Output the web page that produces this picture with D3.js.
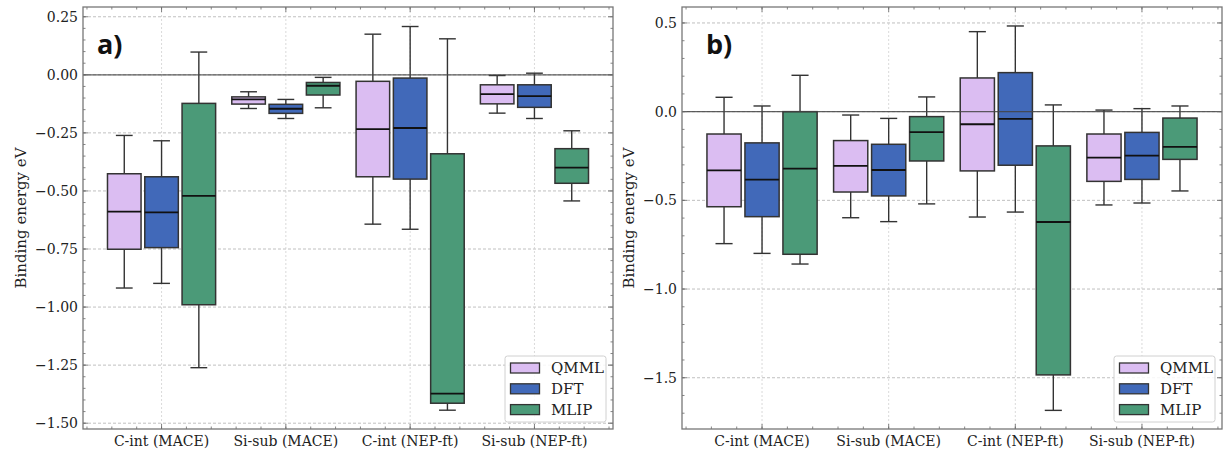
<!DOCTYPE html>
<html><head><meta charset="utf-8">
<script src="https://cdn.jsdelivr.net/npm/d3@7"></script>
<style>body{margin:0;background:#fff} svg{display:block}</style>
</head><body>
<svg id="chart" width="1223" height="450"></svg>
<script>
// Categories and series
const categories = ["C-int (MACE)", "Si-sub (MACE)", "C-int (NEP-ft)", "Si-sub (NEP-ft)"];
const seriesNames = ["QMML", "DFT", "MLIP"];
const seriesColors = ["#DBBDF2", "#4169B9", "#4B9A78"];

// Box summaries per category: [lower whisker, Q1, median, Q3, upper whisker]
const qmmlA = [[-0.918, -0.751, -0.589, -0.426, -0.261], [-0.145, -0.126, -0.106, -0.095, -0.073],
               [-0.643, -0.439, -0.234, -0.028, 0.175], [-0.165, -0.125, -0.083, -0.043, -0.003]];
const dftA  = [[-0.898, -0.744, -0.592, -0.439, -0.284], [-0.188, -0.166, -0.146, -0.127, -0.106],
               [-0.665, -0.449, -0.229, -0.014, 0.208], [-0.188, -0.140, -0.092, -0.043, 0.007]];
const mlipA = [[-1.261, -0.990, -0.521, -0.123, 0.098], [-0.142, -0.087, -0.047, -0.033, -0.011],
               [-1.444, -1.414, -1.373, -0.340, 0.155], [-0.543, -0.467, -0.400, -0.318, -0.241]];

const qmmlB = [[-0.744, -0.536, -0.331, -0.126, 0.081], [-0.598, -0.453, -0.306, -0.163, -0.019],
               [-0.594, -0.334, -0.071, 0.190, 0.451], [-0.526, -0.393, -0.259, -0.126, 0.009]];
const dftB  = [[-0.799, -0.592, -0.383, -0.176, 0.032], [-0.620, -0.475, -0.329, -0.184, -0.038],
               [-0.566, -0.302, -0.041, 0.220, 0.483], [-0.515, -0.382, -0.248, -0.117, 0.017]];
const mlipB = [[-0.859, -0.804, -0.321, 0.000, 0.205], [-0.520, -0.278, -0.115, -0.028, 0.083],
               [-1.684, -1.484, -0.622, -0.193, 0.038], [-0.447, -0.269, -0.199, -0.036, 0.032]];

// Axis ticks
const yTicksA = [0.25, 0.00, -0.25, -0.50, -0.75, -1.00, -1.25, -1.50];
const yTicksB = [0.5, 0.0, -0.5, -1.0, -1.5];

const yLabel = "Binding energy eV";

const svg = d3.select("#chart");
const serif = "'DejaVu Serif', serif";

const panels = [
  { box: { l: 83, t: 7, r: 613, b: 429 }, yDomain: [-1.525, 0.292], yTicks: yTicksA, minorStep: 0.05,
    fmt: d3.format(".2f"), data: [qmmlA, dftA, mlipA], tag: "a)", tagX: 97, labelX: 21 },
  { box: { l: 682, t: 7, r: 1222, b: 429 }, yDomain: [-1.789, 0.590], yTicks: yTicksB, minorStep: 0.1,
    fmt: d3.format(".1f"), data: [qmmlB, dftB, mlipB], tag: "b)", tagX: 706, labelX: 629 }
];

const xDomain = [-0.632, 3.632];
const offsets = [-0.30, 0, 0.30];
const boxW = 0.27;

panels.forEach(p => {
  const g = svg.append("g");
  const { l, t, r, b } = p.box;
  const x = d3.scaleLinear().domain(xDomain).range([l, r]);
  const y = d3.scaleLinear().domain(p.yDomain).range([b, t]);

  // grid
  g.append("g").selectAll("line").data(p.yTicks).join("line")
    .attr("x1", l).attr("x2", r).attr("y1", d => y(d)).attr("y2", d => y(d))
    .attr("stroke", "#b0b0b0").attr("stroke-width", 0.8).attr("stroke-dasharray", "3,2");
  g.append("g").selectAll("line").data(categories).join("line")
    .attr("x1", (d, i) => x(i)).attr("x2", (d, i) => x(i)).attr("y1", t).attr("y2", b)
    .attr("stroke", "#d0d0d0").attr("stroke-width", 0.8).attr("stroke-dasharray", "2,2");

  // boxes
  const unit = x(1) - x(0);
  const bw = boxW * unit;
  p.data.forEach((series, s) => {
    const sg = g.append("g");
    series.forEach((v, i) => {
      const cx = x(i + offsets[s]);
      const [lo, q1, med, q3, hi] = v;
      const st = "#333";
      sg.append("line").attr("x1", cx).attr("x2", cx).attr("y1", y(q3)).attr("y2", y(hi)).attr("stroke", st).attr("stroke-width", 1.4);
      sg.append("line").attr("x1", cx).attr("x2", cx).attr("y1", y(q1)).attr("y2", y(lo)).attr("stroke", st).attr("stroke-width", 1.4);
      sg.append("line").attr("x1", cx - bw / 4).attr("x2", cx + bw / 4).attr("y1", y(hi)).attr("y2", y(hi)).attr("stroke", st).attr("stroke-width", 1.4);
      sg.append("line").attr("x1", cx - bw / 4).attr("x2", cx + bw / 4).attr("y1", y(lo)).attr("y2", y(lo)).attr("stroke", st).attr("stroke-width", 1.4);
      sg.append("rect").attr("x", cx - bw / 2).attr("width", bw)
        .attr("y", y(q3)).attr("height", y(q1) - y(q3))
        .attr("fill", seriesColors[s]).attr("stroke", st).attr("stroke-width", 1.5);
      sg.append("line").attr("x1", cx - bw / 2).attr("x2", cx + bw / 2).attr("y1", y(med)).attr("y2", y(med))
        .attr("stroke", "#111").attr("stroke-width", 1.8);
    });
  });

  // zero reference line
  g.append("line").attr("x1", l).attr("x2", r).attr("y1", y(0)).attr("y2", y(0))
    .attr("stroke", "#444").attr("stroke-width", 1.3).attr("stroke-opacity", 0.85);

  // ticks pointing inward on all sides
  const tk = g.append("g").attr("stroke", "#666").attr("stroke-width", 0.8);
  const [y0, y1] = p.yDomain;
  const minorY = d3.range(Math.ceil(y0 / p.minorStep) * p.minorStep, y1, p.minorStep)
    .map(v => +v.toFixed(3));
  const minorX = d3.range(-0.6, 3.61, 0.2).map(v => +v.toFixed(2));
  minorY.forEach(v => {
    tk.append("line").attr("x1", l).attr("x2", l + 2.5).attr("y1", y(v)).attr("y2", y(v));
    tk.append("line").attr("x1", r).attr("x2", r - 2.5).attr("y1", y(v)).attr("y2", y(v));
  });
  p.yTicks.forEach(v => {
    tk.append("line").attr("x1", l).attr("x2", l + 5).attr("y1", y(v)).attr("y2", y(v));
    tk.append("line").attr("x1", r).attr("x2", r - 5).attr("y1", y(v)).attr("y2", y(v));
  });
  minorX.forEach(v => {
    tk.append("line").attr("y1", b).attr("y2", b - 2.5).attr("x1", x(v)).attr("x2", x(v));
    tk.append("line").attr("y1", t).attr("y2", t + 2.5).attr("x1", x(v)).attr("x2", x(v));
  });
  categories.forEach((c, i) => {
    tk.append("line").attr("y1", b).attr("y2", b - 5).attr("x1", x(i)).attr("x2", x(i));
    tk.append("line").attr("y1", t).attr("y2", t + 5).attr("x1", x(i)).attr("x2", x(i));
  });

  // frame
  g.append("rect").attr("x", l).attr("y", t).attr("width", r - l).attr("height", b - t)
    .attr("fill", "none").attr("stroke", "#777").attr("stroke-width", 1.3);

  // tick labels
  g.append("g").selectAll("text").data(p.yTicks).join("text")
    .attr("x", l - 5).attr("y", d => y(d)).attr("dy", "0.36em").attr("text-anchor", "end")
    .attr("font-family", serif).attr("font-size", 14).attr("fill", "#222")
    .text(d => p.fmt(d));
  g.append("g").selectAll("text").data(categories).join("text")
    .attr("x", (d, i) => x(i)).attr("y", b + 17).attr("text-anchor", "middle")
    .attr("font-family", serif).attr("font-size", 14).attr("fill", "#222")
    .text(d => d);

  // axis title
  g.append("text").attr("transform", `translate(${p.labelX},${(t + b) / 2}) rotate(-90)`)
    .attr("text-anchor", "middle").attr("dy", "0.35em")
    .attr("font-family", serif).attr("font-size", 15).attr("fill", "#222").text(yLabel);

  // panel tag
  g.append("text").attr("x", p.tagX).attr("y", 54)
    .attr("font-family", "'Open Sans', sans-serif").attr("font-weight", 700).attr("font-size", 27)
    .attr("fill", "#111").text(p.tag);

  // legend
  const lg = g.append("g").attr("transform", `translate(${r - 108},${b - 73})`);
  lg.append("rect").attr("width", 101).attr("height", 66).attr("rx", 2.5)
    .attr("fill", "#fff").attr("fill-opacity", 0.85).attr("stroke", "#d0d0d0").attr("stroke-width", 1);
  seriesNames.forEach((n, s) => {
    const cy = 12 + s * 20.8;
    lg.append("rect").attr("x", 5.5).attr("y", cy - 5).attr("width", 29).attr("height", 10)
      .attr("fill", seriesColors[s]).attr("stroke", "#333").attr("stroke-width", 1.3);
    lg.append("text").attr("x", 46).attr("y", cy).attr("dy", "0.36em")
      .attr("font-family", serif).attr("font-size", 15).attr("fill", "#222").text(n);
  });
});
</script>
</body></html>
